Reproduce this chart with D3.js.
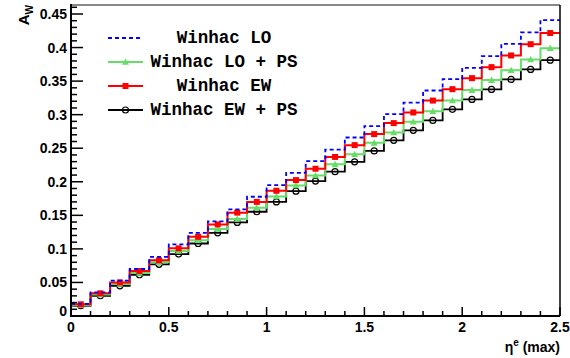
<!DOCTYPE html>
<html><head><meta charset="utf-8">
<script src="https://cdn.jsdelivr.net/npm/d3@7"></script>
<style>body{margin:0;background:#fff}svg{display:block}</style>
</head><body><svg id="c" width="570" height="358"></svg>
<script>
const binEdges = d3.range(26).map(i => +(i*0.1).toFixed(2));
const loValues = [0.018,0.0353,0.0526,0.070,0.088,0.1068,0.124,0.141,0.159,0.1777,0.195,0.2134,0.2308,0.248,0.266,0.283,0.3008,0.318,0.336,0.353,0.3698,0.3872,0.4055,0.4225,0.441];
const loPsValues = [0.016,0.032,0.0477,0.064,0.080,0.0968,0.113,0.1296,0.1445,0.1613,0.178,0.1946,0.2095,0.226,0.241,0.258,0.2736,0.2894,0.305,0.321,0.3366,0.3515,0.3663,0.3823,0.399];
const ewValues = [0.0174,0.0338,0.050,0.067,0.083,0.1008,0.118,0.1365,0.154,0.170,0.1866,0.2025,0.2194,0.237,0.2546,0.271,0.2874,0.3033,0.321,0.338,0.3544,0.3708,0.3882,0.405,0.4216];
const ewPsValues = [0.0153,0.0302,0.045,0.0615,0.077,0.0923,0.108,0.124,0.1395,0.1553,0.170,0.186,0.201,0.215,0.2298,0.246,0.2617,0.2766,0.2914,0.308,0.3227,0.3376,0.3525,0.3674,0.3812];
const seriesNames = ["Winhac LO","Winhac LO + PS","Winhac EW","Winhac EW + PS"];
const yTicks = [0,0.05,0.1,0.15,0.2,0.25,0.3,0.35,0.4,0.45];
const xTicks = [0,0.5,1,1.5,2,2.5];

const svg = d3.select("#c");
const L=71, R=560, T=5, B=316;
const x = d3.scaleLinear().domain([0,2.5]).range([L,R]);
const y = d3.scaleLinear().domain([0,0.4634]).range([B,T]);

const series = [
  {name:seriesNames[0], vals:loValues, color:"#0000ff", dash:"4,3", marker:null, w:1.8},
  {name:seriesNames[1], vals:loPsValues, color:"#66dd66", dash:null, marker:"tri", w:2},
  {name:seriesNames[2], vals:ewValues, color:"#ff0000", dash:null, marker:"sq", w:2},
  {name:seriesNames[3], vals:ewPsValues, color:"#000000", dash:null, marker:"circ", w:1.8}
];

function stepPath(vals){
  let p = "";
  vals.forEach((v,i)=>{
    const x0=x(binEdges[i]), x1=x(binEdges[i+1]), yy=y(v);
    p += (i===0? "M":"L") + x0 + "," + yy + "L" + x1 + "," + yy;
  });
  return p;
}
function drawMarker(g, type, cx, cy, color){
  if(type==="sq") g.append("rect").attr("x",cx-3).attr("y",cy-3).attr("width",6).attr("height",6).attr("fill",color);
  else if(type==="tri") g.append("path").attr("d",`M${cx},${cy-3.5}L${cx+3.5},${cy+2.8}L${cx-3.5},${cy+2.8}Z`).attr("fill",color);
  else if(type==="circ") g.append("circle").attr("cx",cx).attr("cy",cy).attr("r",3).attr("fill","none").attr("stroke",color).attr("stroke-width",1.2);
}

const plot = svg.append("g");
[3,1,2,0].forEach(k=>{
  const s = series[k];
  plot.append("path").attr("d",stepPath(s.vals)).attr("fill","none")
    .attr("stroke",s.color).attr("stroke-width",s.w).attr("stroke-dasharray",s.dash);
  if(s.marker){
    s.vals.forEach((v,i)=>drawMarker(plot,s.marker,x((binEdges[i]+binEdges[i+1])/2),y(v),s.color));
  }
});

svg.append("line").attr("x1",L).attr("x2",R).attr("y1",T).attr("y2",T).attr("stroke","#888").attr("stroke-width",2);
svg.append("line").attr("x1",R).attr("x2",R).attr("y1",T).attr("y2",B).attr("stroke","#000").attr("stroke-width",1.5);

const ya = svg.append("g");
ya.append("line").attr("x1",L).attr("x2",L).attr("y1",T-1).attr("y2",B+1).attr("stroke","#000").attr("stroke-width",2);
d3.range(0,47).forEach(i=>{
  const v=i*0.01, len = (i%5===0)?12:6;
  ya.append("line").attr("x1",L).attr("x2",L+len).attr("y1",y(v)).attr("y2",y(v)).attr("stroke","#000").attr("stroke-width",1.5);
});
yTicks.forEach(v=>{
  ya.append("text").attr("x",L-4).attr("y",y(v)+ (v===0?0:5)).attr("text-anchor","end")
    .attr("font-family","Liberation Sans, Arial, sans-serif").attr("font-weight","bold").attr("font-size",14).text(String(v));
});
const xa = svg.append("g");
xa.append("line").attr("x1",L-1).attr("x2",R).attr("y1",B).attr("y2",B).attr("stroke","#000").attr("stroke-width",2);
d3.range(0,26).forEach(i=>{
  const v=i*0.1, len=(i%5===0)?9:5;
  xa.append("line").attr("x1",x(v)).attr("x2",x(v)).attr("y1",B).attr("y2",B-len).attr("stroke","#000").attr("stroke-width",1.5);
});
xTicks.forEach(v=>{
  xa.append("text").attr("x",x(v)).attr("y",B+16).attr("text-anchor","middle")
    .attr("font-family","Liberation Sans, Arial, sans-serif").attr("font-weight","bold").attr("font-size",14).text(String(v));
});
const xt = svg.append("text").attr("x",R).attr("y",352).attr("text-anchor","end")
  .attr("font-family","Liberation Sans, Arial, sans-serif").attr("font-weight","bold").attr("font-size",14);
xt.append("tspan").text("η");
xt.append("tspan").attr("dy",-6).attr("font-size",10).text("e");
xt.append("tspan").attr("dy",6).text(" (max)");
const yt = svg.append("text").attr("transform","translate(29,5) rotate(-90)").attr("text-anchor","end")
  .attr("font-family","Liberation Sans, Arial, sans-serif").attr("font-weight","bold").attr("font-size",15);
yt.append("tspan").text("A");
yt.append("tspan").attr("dy",4).attr("font-size",10).text("W");

const lg = svg.append("g");
const rowY = [38,62,86,110];
series.forEach((s,i)=>{
  const yy=rowY[i];
  lg.append("line").attr("x1",108).attr("x2",143).attr("y1",yy).attr("y2",yy)
    .attr("stroke",s.color).attr("stroke-width",s.w).attr("stroke-dasharray",s.dash);
  if(s.marker) drawMarker(lg,s.marker,125.5,yy,s.color);
  lg.append("text").attr("x",224).attr("y",yy+5).attr("text-anchor","middle")
    .attr("font-family","Liberation Mono, Courier New, monospace").attr("font-weight","bold").attr("font-size",17.5).text(s.name);
});
</script></body></html>
